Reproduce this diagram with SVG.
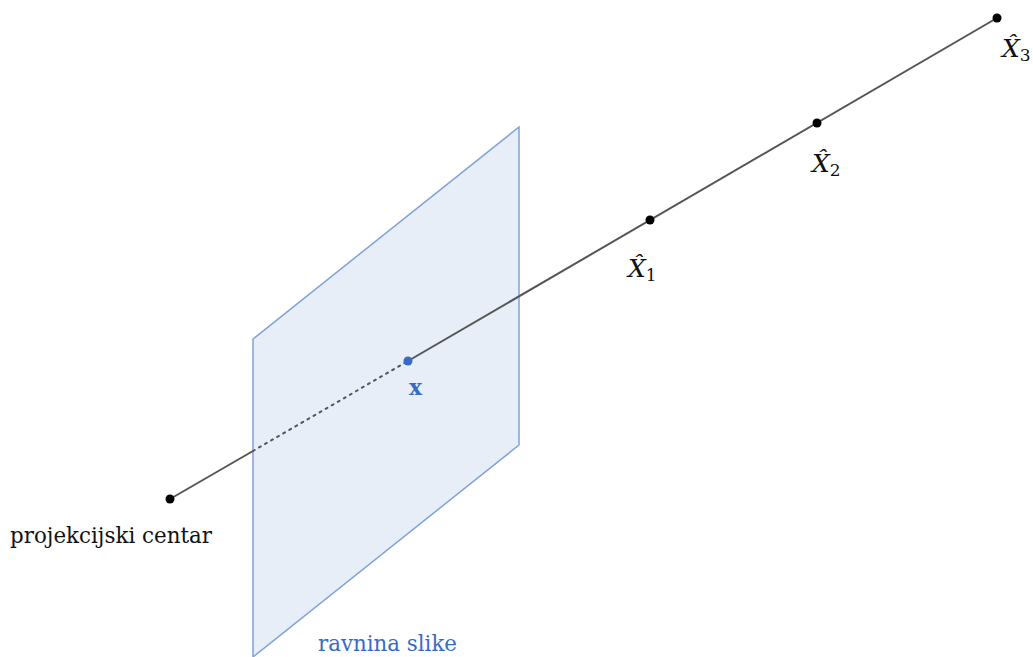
<svg xmlns="http://www.w3.org/2000/svg" width="1033" height="657" viewBox="0 0 1033 657">
<style>
text{font-family:'DejaVu Serif','Liberation Serif',serif;font-size:22px;fill:#111}
.it{font-style:italic}
.blue{fill:#3a6bc4}
.ray{stroke:#555;stroke-width:2;fill:none}
.pt{fill:#000}
.xl{font-size:25px}
.sub{font-size:17px}
</style>
<rect width="1033" height="657" fill="#fff"/>
<g id="plane">
<polygon points="253,339 519,127 519,445 253,657" fill="#e8eef7" stroke="#7fa3d6" stroke-width="1.5"/>
<text class="blue" x="318" y="651" textLength="139" lengthAdjust="spacingAndGlyphs">ravnina slike</text>
</g>
<g id="connectors">
<line class="ray" x1="170" y1="499" x2="253" y2="451"/>
<line class="ray" x1="253" y1="451" x2="408" y2="361" stroke-dasharray="2 5" stroke-linecap="round"/>
<line class="ray" x1="408" y1="361" x2="997" y2="18"/>
</g>
<g id="center">
<circle class="pt" cx="170" cy="499" r="4.5"/>
<text x="10" y="543" textLength="202" lengthAdjust="spacingAndGlyphs">projekcijski centar</text>
</g>
<g id="x">
<circle cx="408" cy="361" r="4.5" fill="#3a6bc4"/>
<text class="blue" x="409" y="395" font-weight="bold">x</text>
</g>
<g id="X1">
<circle class="pt" cx="650" cy="220" r="4.5"/>
<text class="xl" x="628" y="277"><tspan class="it">X̂</tspan><tspan class="sub" dy="4">1</tspan></text>
</g>
<g id="X2">
<circle class="pt" cx="817" cy="123" r="4.5"/>
<text class="xl" x="812" y="172"><tspan class="it">X̂</tspan><tspan class="sub" dy="4">2</tspan></text>
</g>
<g id="X3">
<circle class="pt" cx="997" cy="18" r="4.5"/>
<text class="xl" x="1002" y="57"><tspan class="it">X̂</tspan><tspan class="sub" dy="4">3</tspan></text>
</g>
</svg>
